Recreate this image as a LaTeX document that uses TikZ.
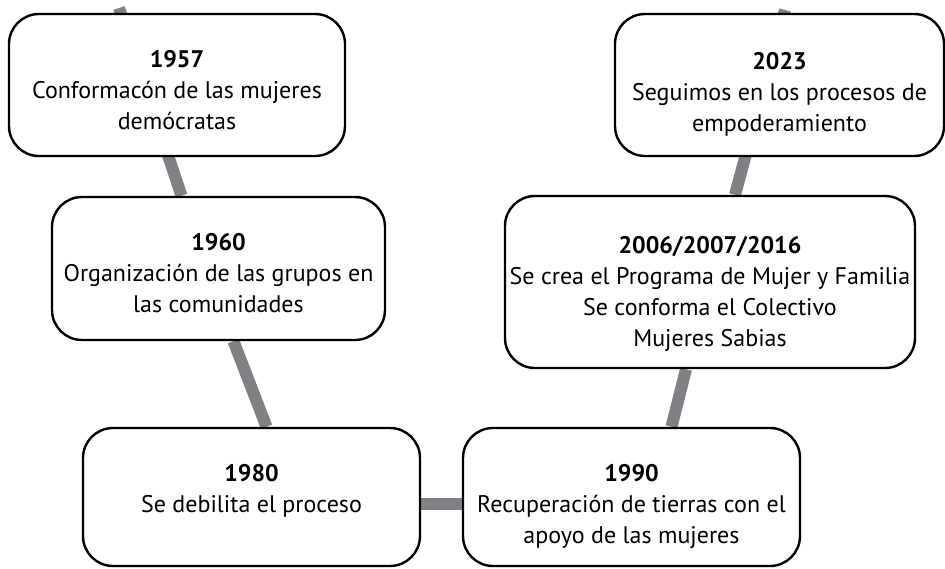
\documentclass[tikz,border=0pt]{standalone}
\usepackage{fontspec}
\setmainfont{PT Sans}
\usepackage{tikz}
\usetikzlibrary{positioning, backgrounds}
\definecolor{linkgray}{RGB}{128,128,133}

\begin{document}
\begin{tikzpicture}[x=1pt, y=-1pt,
    card/.style={rectangle, draw, line width=2.4pt, rounded corners=30pt, fill=white, inner sep=0pt},
    cardtext/.style={align=center, inner sep=0pt, font=\fontsize{24}{31}\selectfont},
    link/.style={draw=linkgray, line width=12pt}
]
\useasboundingbox (0,0) rectangle (945,568);

\node[card, minimum width=336pt, minimum height=142pt] (n1957) at (177,85) {};
\node[card, minimum width=333pt, minimum height=143pt] (n1960) at (218.5,268.5) {};
\node[card, minimum width=337pt, minimum height=138pt] (n1980) at (251.5,497) {};
\node[card, minimum width=337pt, minimum height=138pt] (n1990) at (631.5,497) {};
\node[card, minimum width=410pt, minimum height=172pt] (n2006) at (710,282) {};
\node[card, minimum width=329pt, minimum height=142pt] (n2023) at (779.5,85) {};

\node[cardtext, below=37pt of n1957.north] (t1957) {\textbf{1957}\\Conformacón de las mujeres\\demócratas};
\node[cardtext, below=37pt of n1960.north] (t1960) {\textbf{1960}\\Organización de las grupos en\\las comunidades};
\node[cardtext, below=37pt of n1980.north] (t1980) {\textbf{1980}\\Se debilita el proceso};
\node[cardtext, below=37pt of n1990.north] (t1990) {\textbf{1990}\\Recuperación de tierras con el\\apoyo de las mujeres};
\node[cardtext, below=41pt of n2006.north] (t2006) {\textbf{2006/2007/2016}\\Se crea el Programa de Mujer y Familia\\Se conforma el Colectivo\\Mujeres Sabias};
\node[cardtext, below=39pt of n2023.north] (t2023) {\textbf{2023}\\Seguimos en los procesos de\\empoderamiento};

% loose ends of the line above the top boxes
\coordinate (topL) at (119,8);
\coordinate (topR) at (785,10);

\begin{scope}[on background layer]
\draw[link] (topL) -- ([xshift=-37pt]n1960.north);
\draw[link] ([xshift=15pt]n1960.south) -- ([xshift=15pt]n1980.north);
\draw[link] ([yshift=-7pt]n1980.east) -- ([yshift=-7pt]n1990.west);
\draw[link] ([xshift=40pt]n1990.north) -- ([xshift=-24pt]n2006.south);
\draw[link] ([xshift=25pt]n2006.north) -- (topR);
\end{scope}

\end{tikzpicture}
\end{document}
